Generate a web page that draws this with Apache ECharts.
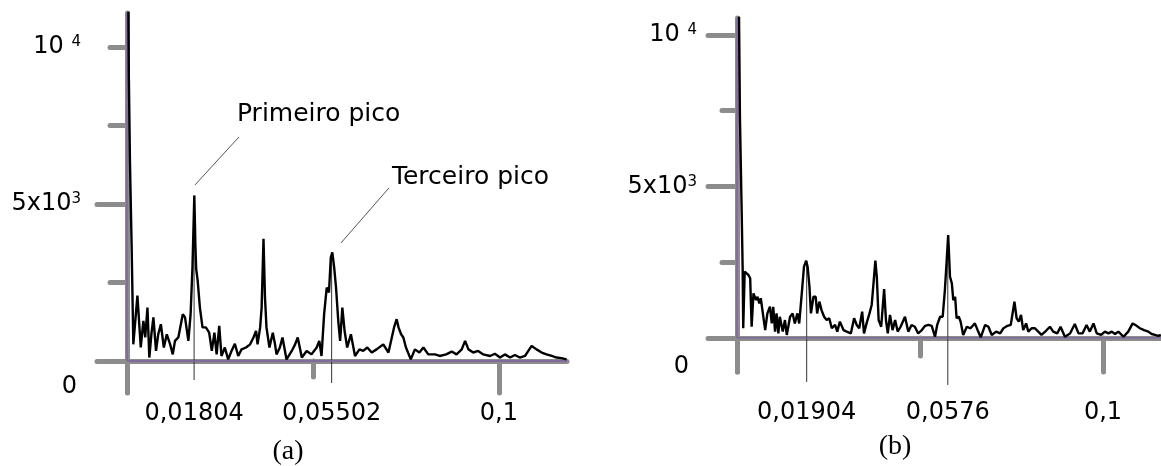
<!DOCTYPE html>
<html><head><meta charset="utf-8">
<script src="https://cdn.jsdelivr.net/npm/echarts@6/dist/echarts.min.js"></script>
<style>html,body{margin:0;padding:0;background:#fff}#c{width:1161px;height:466px}</style>
</head><body><div id="c"></div>
<script>
// ---------- Panel (a) ----------
const freqA = [0.0002,0.0005,0.0008,0.00125,0.0017,0.0028,0.0037,0.0044,0.0049,0.0055,0.0060,0.0066,0.0071,0.0078,0.0084,0.0091,0.0099,0.0107,0.0116,0.0123,0.0129,0.0138,0.0150,0.0156,0.0165,0.0171,0.0176,0.0181,0.0184,0.0186,0.0190,0.0196,0.0203,0.0212,0.0221,0.0228,0.0235,0.0241,0.0248,0.0254,0.0263,0.0272,0.0281,0.0290,0.0299,0.0308,0.0320,0.0331,0.0340,0.0347,0.0351,0.0358,0.0362,0.0367,0.0371,0.0375,0.0383,0.0392,0.0398,0.0402,0.0411,0.0418,0.0429,0.0443,0.0452,0.0459,0.0470,0.0483,0.0496,0.0510,0.0517,0.0523,0.0530,0.0537,0.0543,0.0548,0.0552,0.0557,0.0562,0.0568,0.0573,0.0579,0.0585,0.0592,0.0602,0.0613,0.0625,0.0635,0.0646,0.0658,0.0671,0.0689,0.0703,0.0712,0.0718,0.0725,0.0730,0.0737,0.0743,0.0750,0.0763,0.0774,0.0786,0.0797,0.0810,0.0828,0.0841,0.0858,0.0873,0.0886,0.0900,0.0909,0.0918,0.0931,0.0944,0.0958,0.0976,0.0989,0.1003,0.1016,0.1030,0.1043,0.1056,0.1070,0.1079,0.1088,0.1101,0.1115,0.1128,0.1142,0.1155,0.1168,0.1182];
const ampA = [14000,9000,6300,3620,530,2080,430,1280,750,1700,110,900,1390,320,850,1170,430,850,530,210,640,750,1490,1390,640,1490,2980,5270,3620,2930,2560,1700,1070,1070,900,320,900,210,1120,160,430,50,320,550,160,370,430,530,750,960,530,1070,1700,3890,2020,1070,430,900,530,210,430,750,50,320,530,750,110,320,210,430,640,160,1490,2340,2180,3300,3460,2980,2340,1280,640,1700,960,430,850,160,370,320,430,270,370,530,270,750,1070,1330,1070,850,750,430,50,370,270,430,210,210,160,210,300,210,370,640,370,270,320,210,160,230,110,210,110,190,110,160,320,480,370,270,210,160,110,90,50];
const peakFreqA = [0.01804, 0.05502];
const peakAmpA = [5270, 3460];
const leadBottomA = [-605, -700];
const xLabelValsA = [0.01804, 0.05502, 0.1];
const xLabelsA = ['0,01804', '0,05502', '0,1'];
const annotTextA = ['Primeiro pico', 'Terceiro pico'];
const annotAnchorA = [[0.02957, 7834], [0.07124, 5828]];
const annotLeaderA = [[[0.01828, 5605], [0.03011, 7134]], [[0.05753, 3758], [0.07043, 5510]]];

// ---------- Panel (b) ----------
const freqB = [0.0003,0.0008,0.0013,0.00155,0.0017,0.0021,0.0031,0.0036,0.0040,0.0045,0.0052,0.0056,0.0061,0.0065,0.0070,0.0077,0.0083,0.0090,0.0095,0.0099,0.0104,0.0108,0.0113,0.0117,0.0125,0.0131,0.0136,0.0145,0.0152,0.0158,0.0165,0.0170,0.0177,0.0183,0.0189,0.0193,0.0198,0.0202,0.0209,0.0215,0.0219,0.0225,0.0231,0.0238,0.0245,0.0252,0.0259,0.0268,0.0274,0.0281,0.0291,0.0300,0.0311,0.0320,0.0327,0.0334,0.0342,0.0347,0.0354,0.0362,0.0368,0.0373,0.0378,0.0382,0.0387,0.0394,0.0402,0.0407,0.0412,0.0418,0.0425,0.0432,0.0439,0.0447,0.0459,0.0468,0.0477,0.0486,0.0495,0.0505,0.0514,0.0523,0.0532,0.0541,0.0547,0.0555,0.0562,0.0568,0.0573,0.0577,0.0582,0.0587,0.0591,0.0596,0.0600,0.0606,0.0611,0.0618,0.0628,0.0638,0.0650,0.0659,0.0666,0.0678,0.0687,0.0696,0.0708,0.0719,0.0728,0.0739,0.0748,0.0753,0.0758,0.0764,0.0770,0.0776,0.0782,0.0790,0.0796,0.0805,0.0814,0.0823,0.0832,0.0842,0.0855,0.0864,0.0875,0.0884,0.0896,0.0910,0.0923,0.0933,0.0944,0.0955,0.0964,0.0974,0.0983,0.0995,0.1005,0.1015,0.1024,0.1033,0.1042,0.1056,0.1069,0.1081,0.1092,0.1101,0.1112,0.1124,0.1133,0.1142,0.1151,0.1158];
const ampB = [14000,7300,4000,2240,320,2190,2080,1970,370,1470,1250,1360,1140,1310,870,260,810,1030,480,1030,210,810,150,700,210,590,100,700,810,480,810,480,1470,2350,2550,2350,1690,810,1360,1360,810,1200,920,700,590,650,320,430,210,540,260,210,150,650,430,320,870,150,480,810,1090,1800,2550,2020,590,370,1610,590,150,760,260,590,210,370,700,210,430,370,150,260,400,430,400,40,430,700,700,1580,2570,3400,2020,1800,1250,1360,650,700,540,100,370,320,480,210,20,430,370,100,210,150,320,400,430,810,1200,650,540,760,260,480,210,320,320,210,100,210,370,210,150,370,40,150,460,150,150,430,210,480,150,100,210,150,210,130,210,40,210,480,400,320,260,210,130,100,70,100];
const peakFreqB = [0.01904, 0.0576];
const peakAmpB = [2550, 3400];
const leadBottomB = [-1450, -1550];
const xLabelValsB = [0.01904, 0.0576, 0.1];
const xLabelsB = ['0,01904', '0,0576', '0,1'];

// ---------- shared axis text ----------
const yLabelVals = [0, 5000, 10000];
const yLabelTexts = ['{z|0}', '5x10{sup|3}', '10 {sup|4}'];
const captions = ['(a)', '(b)'];

const GREY = '#8c8c8c', PURPLE = '#7b62a3', FONT = 'DejaVu Sans';

const panels = [
  { grid: {left:127, top:13, width:440, height:379.4}, xmax:0.1183, ymin:-1000, ymax:11080,
    freq:freqA, amp:ampA, peakF:peakFreqA, peakA:peakAmpA, leadB:leadBottomA,
    xVals:xLabelValsA, xLabs:xLabelsA, xMargin:9, yMargin:46, zPad:[52,4,0,0],
    majorY:[0,5000], majorLen:30, minorY:[2500,7500,10000], minorLen:17, majX:[0,0.1], majXLen:32, minX:[0.05], minXLen:16,
    annText:annotTextA, annAnchor:annotAnchorA, annLeader:annotLeaderA },
  { grid: {left:737, top:18, width:424, height:353.9}, xmax:0.11585, ymin:-1120, ymax:10560,
    freq:freqB, amp:ampB, peakF:peakFreqB, peakA:peakAmpB, leadB:leadBottomB,
    xVals:xLabelValsB, xLabs:xLabelsB, xMargin:29, yMargin:40, zPad:[58,8,0,0],
    majorY:[0,5000,10000], majorLen:29, minorY:[2500,7500], minorLen:15, majX:[0,0.1], majXLen:34, minX:[0.05], minXLen:18,
    annText:[], annAnchor:[], annLeader:[] }
];

const option = { animation:false, grid:[], xAxis:[], yAxis:[], series:[], graphic:[] };
const tickStyle = (len) => ({ length:len, lineStyle:{color:GREY, width:5, cap:'round'} });

panels.forEach((p, i) => {
  option.grid.push(p.grid);
  const xi = option.xAxis.length, yi = option.yAxis.length;
  option.xAxis.push({
    gridIndex:i, type:'value', min:0, max:p.xmax, position:'bottom',
    axisLine:{show:true, onZero:true, lineStyle:{color:GREY, width:5}},
    axisTick:Object.assign({show:true, customValues:p.majX}, tickStyle(p.majXLen)),
    axisLabel:{show:true, customValues:p.xVals, margin:p.xMargin, fontSize:24, fontFamily:FONT, color:'#000',
      formatter:(v) => { const k = p.xVals.findIndex(t => Math.abs(t - v) < 1e-9); return k >= 0 ? p.xLabs[k] : ''; }},
    splitLine:{show:false}
  });
  option.xAxis.push({
    gridIndex:i, type:'value', min:0, max:p.xmax, position:'bottom',
    axisLine:{show:false, onZero:true},
    axisTick:Object.assign({show:true, customValues:p.minX}, tickStyle(p.minXLen)),
    axisLabel:{show:false}, splitLine:{show:false}
  });
  option.yAxis.push({
    gridIndex:i, type:'value', min:p.ymin, max:p.ymax, position:'left',
    axisLine:{show:true, onZero:true, lineStyle:{color:GREY, width:5}},
    axisTick:Object.assign({show:true, customValues:p.majorY}, tickStyle(p.majorLen)),
    axisLabel:{show:true, customValues:yLabelVals, margin:p.yMargin, fontSize:24, fontFamily:FONT, color:'#000',
      formatter:(v) => { const k = yLabelVals.indexOf(v); return k >= 0 ? yLabelTexts[k] : ''; },
      rich:{ z:{fontSize:24, fontFamily:FONT, color:'#000', padding:p.zPad},
             sup:{fontSize:15, fontFamily:FONT, color:'#000', verticalAlign:'top'} }},
    splitLine:{show:false}
  });
  option.yAxis.push({
    gridIndex:i, type:'value', min:p.ymin, max:p.ymax, position:'left',
    axisLine:{show:false, onZero:true},
    axisTick:Object.assign({show:true, customValues:p.minorY}, tickStyle(p.minorLen)),
    axisLabel:{show:false}, splitLine:{show:false}
  });

  // purple inner axis lines (from the origin to the axis ends)
  option.series.push({
    type:'custom', xAxisIndex:xi, yAxisIndex:yi, clip:false, z:2, silent:true,
    data:[[0, 0, 0, p.ymax], [0, 0, p.xmax, 0]],
    renderItem:(params, api) => {
      const a = api.coord([api.value(0), api.value(1)]);
      const b = api.coord([api.value(2), api.value(3)]);
      return {type:'line', shape:{x1:a[0], y1:a[1], x2:b[0], y2:b[1]}, style:{stroke:PURPLE, lineWidth:1.3}};
    }
  });

  // thin peak marker lines
  option.series.push({
    type:'custom', xAxisIndex:xi, yAxisIndex:yi, clip:false, z:1, silent:true,
    data:p.peakF.map((f, k) => [f, p.peakA[k], p.leadB[k]]),
    renderItem:(params, api) => {
      const a = api.coord([api.value(0), api.value(1)]);
      const b = api.coord([api.value(0), api.value(2)]);
      return {type:'line', shape:{x1:a[0], y1:a[1], x2:b[0], y2:b[1]}, style:{stroke:'#333', lineWidth:1}};
    }
  });

  const ml = [];
  p.annLeader.forEach(seg => ml.push([{coord:seg[0], lineStyle:{color:'#555', width:1, type:'solid'}}, {coord:seg[1]}]));

  option.series.push({
    type:'line', xAxisIndex:xi, yAxisIndex:yi, z:3, clip:true,
    data:p.freq.map((f, k) => [f, p.amp[k]]),
    showSymbol:false, symbol:'none',
    lineStyle:{color:'#000', width:2.4},
    markLine:{silent:true, symbol:['none','none'], label:{show:false}, lineStyle:{type:'solid'}, data:ml},
    markPoint:{silent:true, symbol:'circle', symbolSize:0,
      label:{show:true, position:'right', distance:0, formatter:'{b}', fontSize:25, fontFamily:FONT, color:'#000'},
      data:p.annText.map((t, k) => ({name:t, coord:p.annAnchor[k]}))}
  });
});

option.graphic = [
  {type:'text', x:288, y:452, style:{text:captions[0], align:'center', verticalAlign:'middle', font:'28px "Liberation Serif"', fill:'#000'}},
  {type:'text', x:895, y:447, style:{text:captions[1], align:'center', verticalAlign:'middle', font:'28px "Liberation Serif"', fill:'#000'}}
];

const chart = echarts.init(document.getElementById('c'), null, {renderer:'canvas'});
chart.setOption(option);
</script></body></html>
